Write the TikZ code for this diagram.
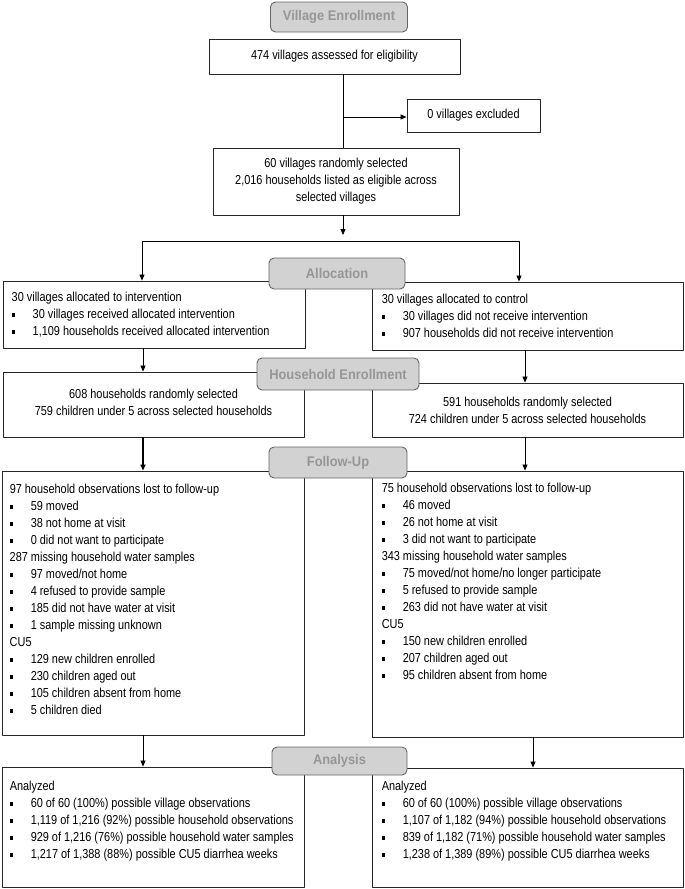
\documentclass[tikz,border=0pt]{standalone}
\usepackage{fontspec}
\setmainfont[FakeStretch=0.84]{Liberation Sans}
\newfontfamily\stagefont[FakeStretch=0.92]{Liberation Sans}
\usetikzlibrary{arrows.meta}

\newcommand{\sq}{\makebox[21pt][l]{\rule[1.6pt]{3.6pt}{3.6pt}}}

\begin{document}
\begin{tikzpicture}[x=1pt, y=-1pt, font=\fontsize{13}{17}\selectfont, line join=round,
  >={Triangle[length=6pt,width=5pt]},
  box/.style={draw=black!85, line width=0.9pt, fill=white, inner sep=0pt},
  txt/.style={align=left, inner sep=0pt, anchor=north west},
  stage/.style={draw=black!60, line width=0.9pt, fill=gray!35, rounded corners=5pt,
    text=gray!82, font=\stagefont\fontsize{14}{16}\selectfont\bfseries, inner sep=0pt},
  link/.style={->, line width=0.8pt}]
\useasboundingbox (0,0) rectangle (685,889);

% boxes
\node[box, minimum width=251pt, minimum height=35pt, align=center] (elig) at (334.5,56.5) {474 villages assessed for eligibility};
\node[box, minimum width=133pt, minimum height=33pt] (excl) at (473.5,115.5) {0 villages excluded};
\node[box, minimum width=246pt, minimum height=67pt, align=center] (rand) at (336,181.5)
  {60 villages randomly selected\\2,016 households listed as eligible across\\selected villages};
\node[box, minimum width=302pt, minimum height=67pt] (allocL) at (154,314.5) {};
\node[box, minimum width=311pt, minimum height=68pt] (allocR) at (527.5,316) {};
\node[box, minimum width=301pt, minimum height=65pt, align=center, text depth=4pt] (hhL) at (153.5,404.5)
  {608 households randomly selected\\759 children under 5 across selected households};
\node[box, minimum width=311pt, minimum height=54pt, align=center] (hhR) at (527.5,410)
  {591 households randomly selected\\724 children under 5 across selected households};
\node[box, minimum width=302pt, minimum height=264pt] (fuL) at (153,603) {};
\node[box, minimum width=311pt, minimum height=266pt] (fuR) at (527.5,604) {};
\node[box, minimum width=302pt, minimum height=120pt] (anL) at (153,827) {};
\node[box, minimum width=311pt, minimum height=119pt] (anR) at (527.5,827.5) {};

% box texts
\node[txt] (allocLtxt) at ([shift={(9,11)}]allocL.north west) {30 villages allocated to intervention\\
  \sq 30 villages received allocated intervention\\
  \sq 1,109 households received allocated intervention};
\node[txt] (allocRtxt) at ([shift={(10,12)}]allocR.north west) {30 villages allocated to control\\
  \sq 30 villages did not receive intervention\\
  \sq 907 households did not receive intervention};
\node[txt] (fuLtxt) at ([shift={(8,13)}]fuL.north west) {97 household observations lost to follow-up\\
  \sq 59 moved\\
  \sq 38 not home at visit\\
  \sq 0 did not want to participate\\
  287 missing household water samples\\
  \sq 97 moved/not home\\
  \sq 4 refused to provide sample\\
  \sq 185 did not have water at visit\\
  \sq 1 sample missing unknown\\
  CU5\\
  \sq 129 new children enrolled\\
  \sq 230 children aged out\\
  \sq 105 children absent from home\\
  \sq 5 children died};
\node[txt] (fuRtxt) at ([shift={(10,12)}]fuR.north west) {75 household observations lost to follow-up\\
  \sq 46 moved\\
  \sq 26 not home at visit\\
  \sq 3 did not want to participate\\
  343 missing household water samples\\
  \sq 75 moved/not home/no longer participate\\
  \sq 5 refused to provide sample\\
  \sq 263 did not have water at visit\\
  CU5\\
  \sq 150 new children enrolled\\
  \sq 207 children aged out\\
  \sq 95 children absent from home};
\node[txt] (anLtxt) at ([shift={(8,14)}]anL.north west) {Analyzed\\
  \sq 60 of 60 (100\%) possible village observations\\
  \sq 1,119 of 1,216 (92\%) possible household observations\\
  \sq 929 of 1,216 (76\%) possible household water samples\\
  \sq 1,217 of 1,388 (88\%) possible CU5 diarrhea weeks};
\node[txt] (anRtxt) at ([shift={(10,13)}]anR.north west) {Analyzed\\
  \sq 60 of 60 (100\%) possible village observations\\
  \sq 1,107 of 1,182 (94\%) possible household observations\\
  \sq 839 of 1,182 (71\%) possible household water samples\\
  \sq 1,238 of 1,389 (89\%) possible CU5 diarrhea weeks};

% connectors
\path (343,117) coordinate (trunk)
  (343,235) coordinate (splitTip)
  (142,241) coordinate (splitL)
  (519,241) coordinate (splitR)
  (143,0) coordinate (colL)
  (525,0) coordinate (colR)
  (533,0) coordinate (colRR);
\draw[line width=0.8pt] (elig.south -| trunk) -- (rand.north -| trunk);
\draw[link] (trunk) -- (trunk -| excl.west);
\draw[link] (rand.south -| splitTip) -- (splitTip);
\draw[<->, line width=0.8pt] (allocL.north -| splitL) -- (splitL) -- (splitR) -- (allocR.north -| splitR);
\draw[link] (allocL.south -| colL) -- (hhL.north -| colL);
\draw[link] (allocR.south -| colR) -- (hhR.north -| colR);
\draw[link, line width=1.6pt] (hhL.south -| colL) -- (fuL.north -| colL);
\draw[link] (hhR.south -| colR) -- (fuR.north -| colR);
\draw[link] (fuL.south -| colL) -- (anL.north -| colL);
\draw[link] (fuR.south -| colRR) -- (anR.north -| colRR);

% stage labels
\foreach \nm/\cx/\cy/\w/\h/\lbl in {stVil/339/17/137/30/Village Enrollment,
    stAlloc/337/273.5/136/31/Allocation, stHh/338/374/162/32/Household Enrollment,
    stFu/338/462.5/138/31/Follow-Up, stAn/339.5/761/135/28/Analysis}
  \node[stage, minimum width=\w pt, minimum height=\h pt] (\nm) at (\cx,\cy) {\lbl};
\end{tikzpicture}
\end{document}
